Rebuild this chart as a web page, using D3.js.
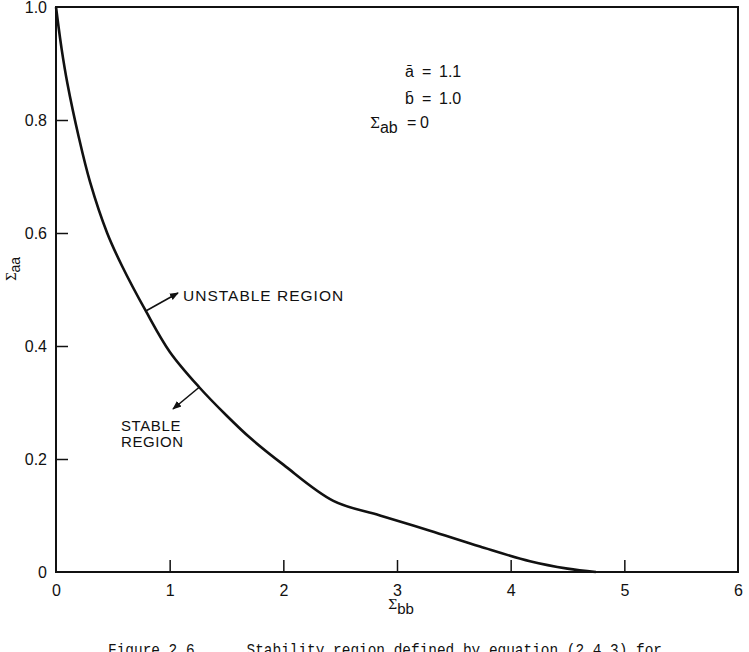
<!DOCTYPE html>
<html>
<head>
<meta charset="utf-8">
<style>
  body { margin: 0; background: #fff; }
  svg { display: block; }
  text { font-family: "Liberation Sans", Arial, sans-serif; fill: #111; }
</style>
</head>
<body>
<svg width="749" height="652"></svg>
<script src="https://cdn.jsdelivr.net/npm/d3@7"></script>
<script>
  // curve
  var sigmaBB = [0, 0.05, 0.1, 0.2, 0.3, 0.45, 0.58, 0.79, 1.0, 1.26, 1.5, 1.71, 2.0, 2.44, 2.85, 3.29, 3.73, 4.17, 4.5, 4.75];
  var sigmaAA = [1.0, 0.925, 0.865, 0.77, 0.69, 0.60, 0.542, 0.462, 0.39, 0.327, 0.277, 0.237, 0.19, 0.126, 0.100, 0.073, 0.045, 0.019, 0.006, 0];
  var xTicks = [0, 1, 2, 3, 4, 5, 6];
  var yTicks = [0, 0.2, 0.4, 0.6, 0.8, 1.0];
  var yTickLabels = ["0", "0.2", "0.4", "0.6", "0.8", "1.0"];

  var svg = d3.select("svg");
  var x = d3.scaleLinear().domain([0, 6]).range([56, 738]);
  var y = d3.scaleLinear().domain([0, 1]).range([572, 7]);

  // frame
  svg.append("rect")
    .attr("x", x(0)).attr("y", y(1))
    .attr("width", x(6) - x(0)).attr("height", y(0) - y(1))
    .attr("fill", "none").attr("stroke", "#111").attr("stroke-width", 2);

  // ticks go inward
  var xAxis = d3.axisBottom(x).tickValues(xTicks).tickSize(-12).tickPadding(10).tickFormat(d3.format("d"));
  var gx = svg.append("g").attr("transform", "translate(0," + y(0) + ")").call(xAxis);
  var yAxis = d3.axisLeft(y).tickValues(yTicks).tickSize(-12).tickPadding(9)
    .tickFormat(function(d, i){ return yTickLabels[i]; });
  var gy = svg.append("g").attr("transform", "translate(" + x(0) + ",0)").call(yAxis);
  [gx, gy].forEach(function(g){
    g.select(".domain").remove();
    g.selectAll("line").attr("stroke", "#111").attr("stroke-width", 1.5);
    g.selectAll("text").style("font-family", "'Liberation Sans', Arial, sans-serif")
      .attr("font-size", 16).attr("fill", "#111");
  });
  gx.selectAll(".tick line").filter(function(d){ return d === 0 || d === 6; }).remove();
  gy.selectAll(".tick line").filter(function(d){ return d === 0 || d === 1; }).remove();
  gx.selectAll("text").attr("dy", "0.85em");

  // stability curve
  var pts = sigmaBB.map(function(v, i){ return [v, sigmaAA[i]]; });
  var line = d3.line().x(function(d){ return x(d[0]); }).y(function(d){ return y(d[1]); })
    .curve(d3.curveCatmullRom.alpha(0.5));
  svg.append("path").datum(pts).attr("d", line)
    .attr("fill", "none").attr("stroke", "#111").attr("stroke-width", 2.6);

  // arrows
  svg.append("defs").append("marker")
    .attr("id", "ah").attr("viewBox", "0 0 10 10").attr("refX", 9).attr("refY", 5)
    .attr("markerWidth", 9).attr("markerHeight", 9).attr("markerUnits", "userSpaceOnUse")
    .attr("orient", "auto")
    .append("path").attr("d", "M0,1 L10,5 L0,9 z").attr("fill", "#111");
  var arrows = [
    {x1: x(0.79), y1: y(0.462), x2: 178, y2: 293},
    {x1: x(1.26), y1: y(0.327), x2: 173, y2: 409}
  ];
  svg.selectAll(".arr").data(arrows).enter().append("line")
    .attr("x1", function(d){ return d.x1; }).attr("y1", function(d){ return d.y1; })
    .attr("x2", function(d){ return d.x2; }).attr("y2", function(d){ return d.y2; })
    .attr("stroke", "#111").attr("stroke-width", 1.6).attr("marker-end", "url(#ah)");

  svg.append("text").attr("x", 183).attr("y", 301).attr("font-size", 15.5)
    .attr("letter-spacing", 1).text("UNSTABLE REGION");
  svg.append("text").attr("x", 121).attr("y", 431).attr("font-size", 15)
    .attr("letter-spacing", 0.6).text("STABLE");
  svg.append("text").attr("x", 121).attr("y", 447).attr("font-size", 15)
    .attr("letter-spacing", 0.6).text("REGION");

  // parameters
  var params = svg.append("g").attr("font-size", 16);
  params.append("text").attr("x", 405).attr("y", 77).text("a\u0304");
  params.append("text").attr("x", 422).attr("y", 77).text("=");
  params.append("text").attr("x", 439).attr("y", 77).text("1.1");
  params.append("text").attr("x", 405).attr("y", 104).text("b\u0304");
  params.append("text").attr("x", 422).attr("y", 104).text("=");
  params.append("text").attr("x", 439).attr("y", 104).text("1.0");
  var p3 = params.append("text").attr("x", 370).attr("y", 128);
  p3.append("tspan").style("font-family", "'DejaVu Serif', serif").attr("font-size", 14).text("\u03A3");
  p3.append("tspan").attr("dy", 5).text("ab");
  params.append("text").attr("x", 407).attr("y", 128).text("=");
  params.append("text").attr("x", 420).attr("y", 128).text("0");

  // axis titles
  var xt = svg.append("text").attr("x", 388).attr("y", 609).attr("font-size", 15);
  xt.append("tspan").style("font-family", "'DejaVu Serif', serif").attr("font-size", 13).text("\u03A3");
  xt.append("tspan").attr("dy", 5).text("bb");
  var yt = svg.append("text").attr("transform", "translate(16,281) rotate(-90)").attr("font-size", 14);
  yt.append("tspan").style("font-family", "'DejaVu Serif', serif").attr("font-size", 12).text("\u03A3");
  yt.append("tspan").attr("dy", 4).text("aa");

  // caption
  svg.append("text").attr("x", 108).attr("y", 655)
    .style("font-family", "'Liberation Mono', 'Courier New', monospace")
    .style("white-space", "pre")
    .attr("font-size", 16).attr("textLength", 554).attr("lengthAdjust", "spacingAndGlyphs")
    .text("Figure 2.6      Stability region defined by equation (2.4.3) for");
</script>
</body>
</html>
